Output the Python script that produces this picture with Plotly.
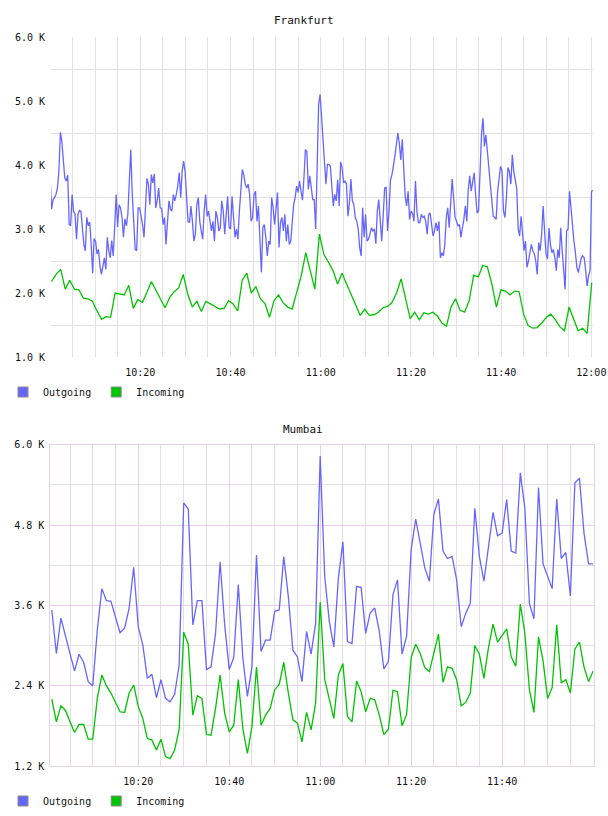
import plotly.graph_objects as go
import pandas as pd

DAY = "2024-01-01 "
BLUE = "#6666ff"
GREEN = "#00c400"
FONT = "DejaVu Sans Mono"

# ---------------- Frankfurt (values in K) ----------------
fra_out = [
    3.81, 3.31, 3.46, 3.49, 3.54, 3.64, 3.90, 4.51, 4.37, 4.06, 3.80, 3.75, 3.84, 3.07, 3.05, 3.54, 3.28, 3.23,
    2.84, 3.23, 3.29, 3.28, 3.07, 2.76, 2.66, 3.18, 3.05, 3.11, 2.76, 2.31, 2.85, 2.81, 2.61, 2.68, 2.42, 2.29,
    2.42, 2.55, 2.37, 2.87, 2.66, 2.55, 2.82, 2.58, 3.02, 3.54, 3.03, 3.38, 3.33, 3.18, 2.87, 3.16, 3.05, 3.23,
    3.75, 4.24, 3.54, 3.02, 2.68, 2.66, 3.33, 3.33, 3.20, 3.07, 2.87, 3.33, 3.79, 3.70, 3.38, 3.85, 3.72, 3.86,
    3.33, 3.44, 3.64, 3.33, 3.32, 3.07, 3.18, 2.76, 3.18, 3.44, 3.31, 3.28, 3.54, 3.44, 3.54, 3.67, 3.88, 3.49,
    3.90, 4.06, 3.90, 3.46, 3.12, 3.10, 3.36, 3.12, 2.81, 2.92, 3.38, 3.49, 3.12, 2.97, 2.84, 3.28, 3.54, 3.20,
    3.28, 3.12, 2.97, 3.12, 2.81, 3.28, 3.18, 2.97, 3.02, 3.44, 3.28, 2.92, 3.31, 3.51, 3.02, 3.00, 3.51, 3.23,
    2.87, 3.00, 2.84, 3.28, 3.70, 3.93, 3.85, 3.70, 3.64, 3.70, 3.54, 3.12, 3.18, 3.54, 3.59, 3.12, 3.36, 2.81,
    2.32, 3.02, 3.07, 2.87, 2.58, 2.81, 2.76, 3.49, 3.33, 3.07, 3.28, 3.57, 2.71, 3.10, 3.18, 2.97, 3.23, 2.81,
    3.07, 2.76, 2.81, 3.07, 3.38, 3.49, 3.67, 3.57, 3.75, 3.59, 3.45, 3.80, 4.24, 4.21, 3.62, 3.83, 3.64, 3.46,
    3.46, 3.00, 3.96, 4.94, 5.10, 4.73, 4.50,
    4.16, 3.70, 4.01, 4.01, 3.98, 3.70, 3.36, 3.54, 3.44, 3.77, 3.36, 4.05, 3.96, 3.72, 3.75, 3.70, 3.20, 3.41,
    3.78, 3.44, 3.38, 3.18, 3.12, 3.00, 2.71, 2.58, 3.33, 2.87, 3.23, 2.81, 2.84, 2.92, 3.02, 2.97, 3.00, 2.77,
    3.28, 3.46, 3.18, 2.81, 3.20, 3.64, 3.65, 2.97, 3.28, 3.77, 3.85, 3.98, 4.14, 4.32, 4.50, 4.34, 4.08, 4.40,
    4.01, 3.51, 3.36, 3.59, 3.15, 3.28, 3.25, 3.12, 3.75, 3.28, 3.10, 3.10, 3.23, 3.18, 3.20, 3.12, 2.92, 3.23,
    3.25, 3.05, 2.89, 2.97, 3.10, 2.97, 3.12, 2.55, 2.63, 2.58, 2.76, 3.18, 3.33, 3.02, 3.38, 3.78, 3.49, 3.18,
    3.12, 3.05, 3.07, 2.87, 3.02, 3.15, 3.36, 3.12, 3.62, 3.83, 3.59, 3.75, 3.88, 3.54, 3.25, 3.28, 3.85, 4.47,
    4.73, 4.29, 4.47, 4.24, 4.01, 3.75, 3.46, 3.20, 3.18, 3.15, 3.59, 3.85, 3.98, 3.90, 3.28, 3.18, 3.49, 3.96,
    3.90, 3.70, 4.16, 3.90, 3.75, 3.64, 3.00, 2.89, 3.20, 2.97, 2.66, 2.81, 2.40, 2.50, 2.66, 2.76, 2.66, 2.61,
    2.50, 2.29, 2.79, 2.66, 2.92, 3.36, 2.97, 2.61, 2.53, 3.02, 2.76, 2.63, 2.68, 2.55, 2.35, 2.68, 2.55, 3.02,
    2.66, 2.29, 2.06, 2.97, 3.00, 3.59, 3.28, 2.97, 2.81, 2.63, 2.40, 2.32, 2.45, 2.55, 2.58, 2.55, 2.35, 2.11,
    2.27, 2.35, 3.59, 3.60,
]
fra_in = [
    2.18, 2.29, 2.37, 2.06, 2.20, 2.06, 2.05, 1.92, 1.91, 1.87, 1.72, 1.59, 1.63, 1.62, 2.00, 1.98, 1.97, 2.12,
    1.76, 1.90, 1.85, 2.01, 2.18, 2.04, 1.91, 1.77, 1.93, 2.02, 2.08, 2.29, 1.98, 1.78, 1.87, 1.71, 1.87, 1.83,
    1.79, 1.75, 1.76, 1.88, 1.83, 1.72, 2.20, 2.31, 2.00, 2.10, 1.91, 1.84, 1.62, 1.88, 1.97, 1.85, 1.78, 1.75,
    2.01, 2.27, 2.63, 2.32, 2.06, 2.92, 2.60,
    2.48, 2.35, 2.14, 2.31, 2.14, 1.98, 1.83, 1.65, 1.75, 1.65, 1.66, 1.70, 1.77, 1.79, 1.85, 2.00, 2.22, 1.93,
    1.60, 1.70, 1.58, 1.69, 1.67, 1.70, 1.64, 1.53, 1.48, 1.78, 1.91, 1.73, 1.70, 1.88, 2.28, 2.25, 2.43, 2.41,
    2.14, 1.78, 2.05, 2.03, 1.97, 2.03, 2.02, 1.67, 1.49, 1.45, 1.46, 1.53, 1.62, 1.67, 1.58, 1.47, 1.41, 1.78,
    1.59, 1.41, 1.45, 1.37, 2.16,
]

# ---------------- Mumbai (values in K) ----------------
mum_out = [
    3.53, 2.88, 3.41, 3.13, 2.88, 2.62, 2.87, 2.75, 2.46, 2.40, 3.23, 3.85, 3.67, 3.66, 3.43, 3.19, 3.26, 3.56,
    4.17, 3.28, 3.01, 2.51, 2.57, 2.22, 2.49, 2.21, 2.16, 2.27, 2.71, 5.13, 5.04, 3.31, 3.67, 3.67, 2.64, 2.68,
    3.18, 4.25, 3.31, 2.64, 2.82, 3.91, 2.81, 2.24, 2.68, 4.35, 2.91, 3.08, 3.08, 3.51, 3.53, 4.33, 3.73, 2.93,
    2.83, 2.46, 3.21, 2.87, 3.33, 5.83, 4.03,
    3.36, 2.98, 4.01, 4.55, 3.06, 3.03, 3.88, 3.87, 3.18, 3.49, 3.56, 3.21, 2.65, 2.76, 3.76, 3.98, 2.87, 3.14,
    4.43, 4.89, 4.50, 4.16, 3.96, 4.96, 5.19, 4.41, 4.30, 4.33, 3.98, 3.28, 3.48, 3.63, 5.05, 4.33, 3.96, 4.45,
    4.99, 4.64, 4.68, 5.18, 4.41, 4.38, 5.58, 5.05, 3.63, 3.40, 5.36, 4.22, 4.03, 3.85, 5.19, 4.30, 4.39, 3.74,
    5.43, 5.50, 4.68, 4.22, 4.22,
]
mum_in = [
    2.20, 1.86, 2.10, 2.03, 1.86, 1.70, 1.82, 1.82, 1.60, 1.60, 2.21, 2.56, 2.40, 2.29, 2.15, 2.01, 2.00, 2.29,
    2.41, 2.09, 1.91, 1.61, 1.59, 1.44, 1.60, 1.34, 1.31, 1.44, 1.75, 3.20, 3.02, 1.96, 2.25, 2.21, 1.67, 1.66,
    2.06, 2.56, 1.99, 1.71, 1.81, 2.49, 1.76, 1.39, 1.79, 2.68, 1.81, 1.96, 2.06, 2.34, 2.42, 2.75, 2.29, 1.89,
    1.84, 1.56, 2.00, 1.74, 2.14, 3.65, 2.49,
    2.21, 1.91, 2.56, 2.73, 1.94, 1.86, 2.47, 2.31, 2.01, 2.21, 2.19, 1.96, 1.67, 1.75, 2.33, 2.31, 1.80, 1.97,
    2.82, 3.02, 2.88, 2.67, 2.61, 2.91, 3.17, 2.45, 2.68, 2.66, 2.49, 2.10, 2.15, 2.29, 3.00, 2.87, 2.51, 2.97,
    3.32, 3.05, 3.15, 3.25, 2.83, 2.69, 3.62, 3.18, 2.34, 2.00, 3.13, 2.77, 2.21, 2.37, 3.31, 2.44, 2.49, 2.29,
    2.95, 3.05, 2.68, 2.46, 2.62,
]

# tick labels
fra_yvals = [1, 2, 3, 4, 5, 6]
fra_ytext = ["1.0 K", "2.0 K", "3.0 K", "4.0 K", "5.0 K", "6.0 K"]
mum_yvals = [1.2, 2.4, 3.6, 4.8, 6.0]
mum_ytext = ["1.2 K", "2.4 K", "3.6 K", "4.8 K", "6.0 K"]
mum_xvals = [DAY + t for t in ["10:20", "10:40", "11:00", "11:20", "11:40"]]
mum_xtext = ["10:20", "10:40", "11:00", "11:20", "11:40"]

fra_out_t = pd.date_range(DAY + "10:00:00", DAY + "12:00:22", periods=len(fra_out))
fra_in_t = pd.date_range(DAY + "10:00:20", DAY + "12:00:05", periods=len(fra_in))
mum_out_t = pd.date_range(DAY + "10:01:00", DAY + "12:00:00", periods=len(mum_out))
mum_in_t = pd.date_range(DAY + "10:01:00", DAY + "12:00:00", periods=len(mum_in))

W, H = 608, 816
GRID = "#e2e2e2"
MGRID = "#e6d0ea"
NGRID = "#e4dfe6"
TICKFONT = dict(family=FONT, size=10, color="#111")

fig = go.Figure()
fig.add_trace(go.Scatter(x=fra_out_t, y=fra_out, mode="lines", line=dict(color=BLUE, width=1.3),
                         xaxis="x", yaxis="y", showlegend=False, hoverinfo="skip"))
fig.add_trace(go.Scatter(x=fra_in_t, y=fra_in, mode="lines", line=dict(color=GREEN, width=1.3),
                         xaxis="x", yaxis="y", showlegend=False, hoverinfo="skip"))
fig.add_trace(go.Scatter(x=mum_out_t, y=mum_out, mode="lines", line=dict(color=BLUE, width=1.3),
                         xaxis="x2", yaxis="y2", showlegend=False, hoverinfo="skip"))
fig.add_trace(go.Scatter(x=mum_in_t, y=mum_in, mode="lines", line=dict(color=GREEN, width=1.3),
                         xaxis="x2", yaxis="y2", showlegend=False, hoverinfo="skip"))

# legend entries
for name, col, lg, xa, ya in [("Outgoing", BLUE, "legend", "x", "y"), ("Incoming", GREEN, "legend", "x", "y"),
                               ("Outgoing", BLUE, "legend2", "x2", "y2"), ("Incoming", GREEN, "legend2", "x2", "y2")]:
    fig.add_trace(go.Scatter(x=[None], y=[None], mode="markers", name=name, legend=lg, xaxis=xa, yaxis=ya,
                             marker=dict(symbol="square", size=10, color=col, line=dict(color="#8a8a8a", width=1))))

AX = dict(automargin=False, zeroline=False, tickfont=TICKFONT)
LEG = dict(orientation="h", xanchor="left", yanchor="middle", bgcolor="rgba(0,0,0,0)",
           font=dict(family=FONT, size=10, color="#111"), itemwidth=30)

fig.update_layout(
    width=W, height=H, margin=dict(l=0, r=0, t=0, b=0, autoexpand=False),
    paper_bgcolor="white", plot_bgcolor="white",
    font=dict(family=FONT, size=10, color="#111"),
    xaxis=dict(domain=[51 / W, 593 / W], anchor="y", type="date",
               range=[DAY + "10:00:12", DAY + "12:00:22"],
               tick0=DAY + "10:00", dtick=1200000, tickformat="%H:%M",
               showgrid=True, gridcolor=GRID, gridwidth=1,
               minor=dict(tick0=DAY + "10:00", dtick=300000, showgrid=True, gridcolor=GRID),
               ticks="outside", ticklen=6, tickcolor="rgba(0,0,0,0)",
               showline=False, **AX),
    yaxis=dict(domain=[1 - 357 / H, 1 - 37 / H], anchor="x", range=[1, 6],
               tickmode="array", tickvals=fra_yvals, ticktext=fra_ytext,
               showgrid=False,
               minor=dict(tickmode="linear", tick0=1.5, dtick=1, showgrid=True, gridcolor=GRID),
               ticks="outside", ticklen=3, tickcolor="rgba(0,0,0,0)",
               showline=False, **AX),
    xaxis2=dict(domain=[50.3 / W, 593.7 / W], anchor="y2", type="date",
                range=[DAY + "10:00:40", DAY + "12:00:08"],
                tickmode="array", tickvals=mum_xvals, ticktext=mum_xtext,
                showgrid=True, gridcolor=MGRID,
                minor=dict(tickmode="linear", tick0=DAY + "10:00", dtick=300000, showgrid=True, gridcolor=NGRID),
                ticks="outside", ticklen=6, tickcolor="rgba(0,0,0,0)",
                showline=True, linecolor=MGRID, mirror=True, **AX),
    yaxis2=dict(domain=[1 - 766 / H, 1 - 444.7 / H], anchor="x2", range=[1.2, 6.0],
                tickmode="array", tickvals=mum_yvals, ticktext=mum_ytext,
                showgrid=True, gridcolor=MGRID,
                minor=dict(tickmode="linear", tick0=1.2, dtick=0.6, showgrid=True, gridcolor=NGRID),
                ticks="outside", ticklen=3, tickcolor="rgba(0,0,0,0)",
                showline=True, linecolor=MGRID, mirror=True, **AX),
    legend=dict(x=3 / W, y=1 - 392 / H, **LEG),
    legend2=dict(x=3 / W, y=1 - 801 / H, **LEG),
    annotations=[
        dict(text="Frankfurt", x=303.5 / W, y=1 - 20 / H, xref="paper", yref="paper", showarrow=False,
             xanchor="center", yanchor="middle", font=dict(family=FONT, size=11, color="#111")),
        dict(text="Mumbai", x=303 / W, y=1 - 429 / H, xref="paper", yref="paper", showarrow=False,
             xanchor="center", yanchor="middle", font=dict(family=FONT, size=11, color="#111")),
    ],
)

fig.write_html("out.html")
